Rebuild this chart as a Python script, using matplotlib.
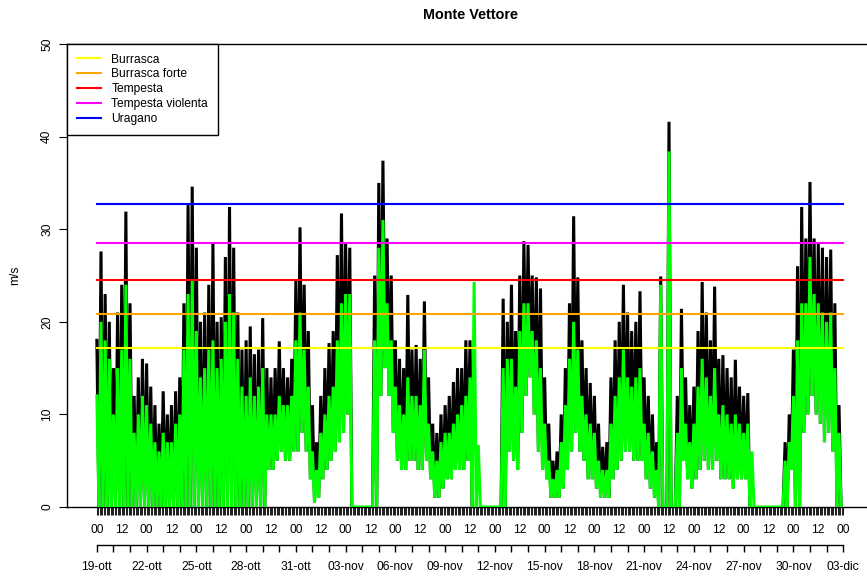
import numpy as np
import matplotlib
matplotlib.use("Agg")
import matplotlib.pyplot as plt
from matplotlib.ticker import FixedLocator, NullFormatter

plt.rcParams['font.family'] = ['Liberation Sans', 'DejaVu Sans']

nan = np.nan

title = "Monte Vettore"
ylabel = "m/s"

threshold_names = ["Burrasca", "Burrasca forte", "Tempesta", "Tempesta violenta", "Uragano"]
threshold_values = [17.2, 20.8, 24.5, 28.5, 32.7]
threshold_colors = ["#FFFF00", "#FFA500", "#FF0000", "#FF00FF", "#0000FF"]

date_labels = ["19-ott", "22-ott", "25-ott", "28-ott", "31-ott", "03-nov", "06-nov",
               "09-nov", "12-nov", "15-nov", "18-nov", "21-nov", "24-nov", "27-nov",
               "30-nov", "03-dic"]
hour_labels = ["00", "12"]

n_days = 45          # 19-ott 00 .. 03-dic 00
slots_per_day = 4    # one reading block every 6 hours

# gust maxima (black), one per 6-hour block, 4 per day
gust_max = [
    18, 27.6, 23, 20,
    15, 21, 24, 31.9,
    22, 12, 14, 16,
    15.5, 13, 11, 9,
    12.5, 10, 11, 12.5,
    14, 22, 32.6, 34.6,
    28, 20, 21, 24,
    28.5, 20, 20.5, 27,
    32.4, 28, 21, 17,
    18, 19.5, 16.5, 17,
    20.4, 15, 14, 15,
    17.9, 15, 14, 16,
    24.5, 30.2, 24, 19,
    11, 7, 12, 15,
    17.7, 19, 27.2, 31.7,
    28.6, 28, nan, nan,
    nan, nan, nan, 25,
    35, 37.4, 29, 25,
    18, 16, 15, 22.9,
    17, 17.5, 16, 22.2,
    14, 9, 8, 10,
    11, 12, 13.5, 15,
    15, 18, 18, nan,
    nan, nan, nan, nan,
    nan, nan, 22.5, 20,
    24, 19, 25, 28.7,
    28.3, 25, 24.8, 23.6,
    14, 9, 5, 6,
    10, 15, 22, 31.4,
    24.8, 18, 15, 13.4,
    12, 9, 6.5, 7,
    14, 18, 20, 24,
    21, 19, 20, 23.3,
    14, 12, 10, 7,
    24.9, nan, 41.6, nan,
    12, 21.4, 14, 11,
    13, 19, 24.3, 21,
    18, 23.8, 16, 16.4,
    15, 14, 15.9, 13,
    12, 12.3, nan, nan,
    nan, nan, nan, nan,
    nan, nan, 7, 10,
    17, 26, 32.4, 29,
    35.1, 29, 28.5, 28,
    27, 27.8, 22, 11,
]

# mean wind (green): block maximum
mean_max = [
    12, 20, 18, 16,
    10, 15, 17, 24,
    16, 8, 10, 12,
    11, 9, 7, 6,
    8, 7, 7, 9,
    10, 17, 23, 24.5,
    19, 14, 15, 17,
    18, 15, 16, 20,
    23, 21, 16, 13,
    12, 14, 12, 13,
    15, 10, 10, 10,
    12, 11, 11, 12,
    18, 21, 17, 13,
    6, 4, 8, 10,
    12, 13, 18, 22,
    23, 23, 0, 0,
    0, 0, 0, 18,
    28, 31, 22, 18,
    13, 11, 10, 14,
    12, 12, 11, 17,
    9, 6, 5, 7,
    8, 8, 9, 10,
    11, 12, 14, 24.3,
    6.7, 0, 0, 0,
    0, 0, 15, 16,
    16, 13, 19, 22,
    22, 19, 18, 15,
    9, 5, 3, 4,
    7, 11, 16, 20,
    17, 12, 10, 9,
    8, 5, 4, 4,
    9, 12, 14, 17,
    14, 13, 14, 15,
    9, 8, 6, 4,
    24, 0, 38.4, 0,
    8, 15, 9, 7,
    9, 13, 16, 14,
    12, 15, 10, 11,
    10, 9, 10, 9,
    8, 9, 6, 0,
    0, 0, 0, 0,
    0, 0, 5, 7,
    12, 18, 22, 22,
    27, 23, 22, 21,
    20, 21, 15, 8,
]

# mean wind (green): block minimum
mean_min = [
    0, 0, 0, 0,
    0, 0, 0, 0,
    0, 0, 0, 0,
    0, 0, 0, 0,
    0, 0, 0, 0,
    0, 0, 0, 0,
    0, 0, 0, 0,
    0, 0, 0, 0,
    0, 0, 0, 0,
    0, 0, 0, 0,
    0, 4, 4, 5,
    6, 5, 5, 6,
    6, 8, 6, 3,
    0.5, 1, 3, 4,
    5, 6, 7, 8,
    10, 0, 0, 0,
    0, 0, 0, 0,
    12, 15, 12, 8,
    5, 4, 4, 5,
    5, 4, 4, 5,
    3, 1, 1, 2,
    3, 3, 4, 4,
    4, 5, 0, 0,
    0, 0, 0, 0,
    0, 0, 0, 6,
    5, 4, 8, 12,
    14, 10, 6, 4,
    3, 1, 1, 1,
    2, 4, 6, 8,
    6, 5, 3, 3,
    2, 1, 1, 1,
    3, 4, 5, 6,
    6, 5, 5, 5,
    3, 2, 1, 0,
    0, 0, 0, 0,
    0, 5, 3, 2,
    3, 4, 5, 4,
    4, 5, 3, 3,
    3, 2, 3, 3,
    3, 0, 0, 0,
    0, 0, 0, 0,
    0, 0, 0, 4,
    0, 0, 8, 10,
    12, 10, 9, 7,
    8, 6, 0, 0,
]

gust_max = np.array(gust_max, dtype=float)
mean_max = np.array(mean_max, dtype=float)
mean_min = np.array(mean_min, dtype=float)
n_slots = n_days * slots_per_day
assert len(gust_max) == n_slots and len(mean_max) == n_slots and len(mean_min) == n_slots

slot_len = 1.0 / slots_per_day
t_slot = np.arange(n_slots) * slot_len
t_pair = np.column_stack([t_slot, t_slot + slot_len / 2]).ravel()
black_y = np.column_stack([gust_max, mean_min]).ravel()
green_y = np.column_stack([mean_max, mean_min]).ravel()

# ---- figure layout (pixels of an 867x578 image) ----
W, H = 867, 578
fig = plt.figure(figsize=(W / 100, H / 100), dpi=100)
px_left, px_right, px_top, px_bottom = 67, 873, 44, 507
ax = fig.add_axes([px_left / W, 1 - px_bottom / H, (px_right - px_left) / W, (px_bottom - px_top) / H])

ax.plot(t_pair, black_y, color="black", lw=2.2, solid_joinstyle="miter", zorder=2)
ax.plot(t_pair, green_y, color="#00FF00", lw=2.2, solid_joinstyle="miter", zorder=3)
for name, val, col in zip(threshold_names, threshold_values, threshold_colors):
    ax.plot([0, n_days], [val, val], color=col, lw=1.5, label=name, zorder=4)

pad_days = 0.04 * n_days
ax.set_xlim(-pad_days, n_days + pad_days)
ax.set_ylim(0, 50)

for s in ["left", "top", "bottom"]:
    ax.spines[s].set_linewidth(1.0)
ax.spines["right"].set_visible(False)

fs = 8.64
ax.set_yticks([0, 10, 20, 30, 40, 50])
ax.set_yticklabels(["0", "10", "20", "30", "40", "50"], rotation=90, va="center", fontsize=fs)
ax.tick_params(axis="y", length=6, width=0.8, pad=4)

# first x axis: hour ticks every 2 h, labels every 36 h
label_pos = np.arange(0, n_days + 1e-9, 1.5)
ax.xaxis.set_major_locator(FixedLocator(label_pos))
ax.set_xticklabels([hour_labels[i % 2] for i in range(len(label_pos))], fontsize=fs)
ax.xaxis.set_minor_locator(FixedLocator(np.arange(0, n_days + 1e-9, 1.0 / 12)))
ax.xaxis.set_minor_formatter(NullFormatter())
ax.tick_params(axis="x", which="both", length=6, width=0.75, color="#222222", pad=6.5)

# second x axis: dates
ax2 = fig.add_axes(ax.get_position().bounds, facecolor="none")
ax2.set_xlim(ax.get_xlim())
ax2.set_ylim(0, 1)
for s in ["left", "top", "right"]:
    ax2.spines[s].set_visible(False)
ax2.spines["bottom"].set_position(("outward", 27.4))
ax2.spines["bottom"].set_bounds(0, n_days)
ax2.spines["bottom"].set_linewidth(1.0)
ax2.set_yticks([])
ax2.xaxis.set_major_locator(FixedLocator(np.arange(0, n_days + 1e-9, 3)))
ax2.set_xticklabels(date_labels, fontsize=fs)
ax2.xaxis.set_minor_locator(FixedLocator(np.arange(0, n_days + 1e-9, 1)))
ax2.xaxis.set_minor_formatter(NullFormatter())
ax2.tick_params(axis="x", which="both", length=5, width=1.0, pad=6.5)

leg = ax.legend(loc="upper left", bbox_to_anchor=(0, 1), borderaxespad=0, fontsize=fs,
                frameon=True, fancybox=False, edgecolor="black", framealpha=1,
                handlelength=2.0, handletextpad=0.9, borderpad=0.8, labelspacing=0.24)
leg.get_frame().set_linewidth(1.0)
leg.set_zorder(10)

fig.text(470 / W, 1 - 15 / H, title, ha="center", va="center", fontsize=10.4, fontweight="bold")
fig.text(15 / W, 1 - 275.5 / H, ylabel, ha="center", va="center", rotation=90, fontsize=fs)

fig.savefig("out.png", dpi=100)
